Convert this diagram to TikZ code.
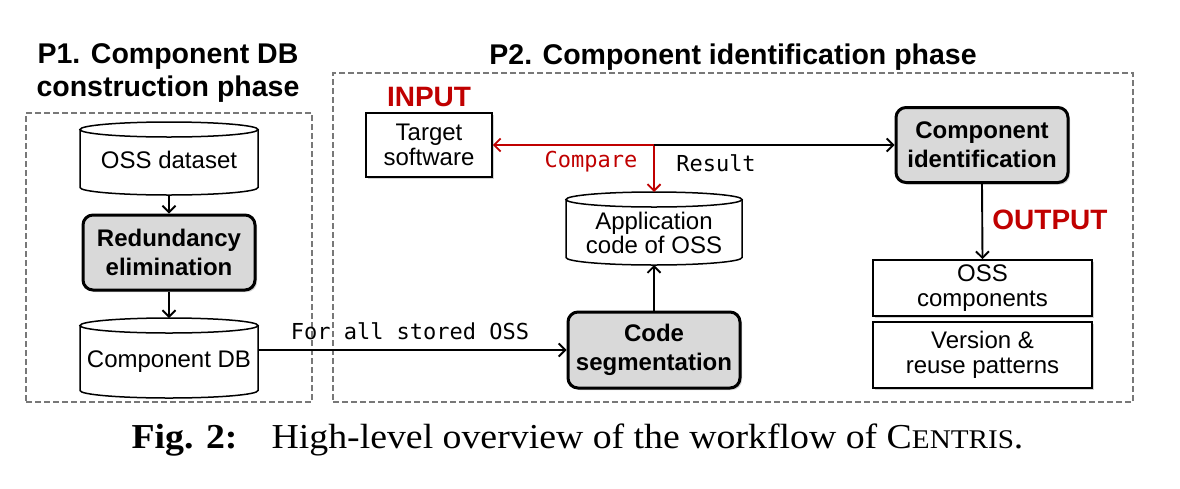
\documentclass[tikz,border=0pt]{standalone}
\usepackage{fontspec}
\setmainfont{Liberation Serif}
\setsansfont{Liberation Sans}
\setmonofont{DejaVu Sans Mono}
\usetikzlibrary{arrows.meta,shadows,calc}
\definecolor{inred}{RGB}{192,0,0}
\definecolor{boxgray}{RGB}{217,217,217}
\definecolor{dashgray}{RGB}{120,120,120}
\newcommand\drawcyl[2]{%
  \draw[cylline] ($(#1.north west)+(0,7.5)$) -- ($(#1.south west)+(0,-7.5)$)
    arc[start angle=180,end angle=360,x radius=#2pt,y radius=7.5pt]
    -- ($(#1.north east)+(0,7.5)$);
  \draw[cylline] ($(#1.north)+(0,7.5)$) ellipse[x radius=#2pt,y radius=7.5pt];
}
\newcommand\cyltext[2]{\raisebox{-#1pt}[\height][\depth]{\begin{tabular}{@{}c@{}}#2\end{tabular}}}
\begin{document}
\begin{tikzpicture}[x=1pt,y=-1pt,
  phase/.style={draw=dashgray, dash pattern=on 6pt off 3pt, line width=1.1pt},
  title/.style={font=\sffamily\bfseries\fontsize{28.5}{33}\selectfont, align=center, inner sep=0pt},
  proc/.style={draw, line width=3pt, rounded corners=10pt, fill=boxgray,
     font=\sffamily\bfseries\fontsize{24}{29}\selectfont, align=center, inner sep=0pt,
     drop shadow={shadow xshift=2pt, shadow yshift=-2pt, opacity=0.35}},
  plainbox/.style={draw, line width=1.6pt, fill=white,
     font=\sffamily\fontsize{24}{25}\selectfont, align=center, inner sep=0pt,
     drop shadow={shadow xshift=2pt, shadow yshift=-2pt, opacity=0.35}},
  cyl/.style={font=\sffamily\fontsize{24}{23}\selectfont, inner sep=0pt, outer sep=0pt},
  cylline/.style={line width=1.5pt},
  conn/.style={line width=1.9pt, -{Straight Barb[length=6.5pt,width=13pt,line width=1.9pt]}},
  monolab/.style={font=\ttfamily\fontsize{22}{24}\selectfont, inner sep=0pt},
  redlab/.style={font=\sffamily\bfseries\fontsize{28}{30}\selectfont, text=inred, inner sep=0pt}
]
\useasboundingbox[fill=white] (0,0) rectangle (1180,488);

% phase frames
\node[phase, minimum width=286pt, minimum height=289pt, inner sep=0pt] (p1) at (169,257.5) {};
\node[phase, minimum width=800pt, minimum height=329pt, inner sep=0pt] (p2) at (733,237.5) {};
\node[title] (p1t) at (168,73) {P1. Component DB\\construction phase};
\node[title] (p2t) at (733,57) {P2. Component identification phase};

% P1
\node[cyl, minimum width=178pt, minimum height=73pt] (oss) at (169,158.5) {\cyltext{4.5}{OSS dataset}};
\drawcyl{oss}{89}
\node[proc, minimum width=172pt, minimum height=75pt] (red) at (169,252.5) {Redundancy\\elimination};
\node[cyl, minimum width=178pt, minimum height=80pt] (cdb) at (169,358) {\cyltext{4.5}{Component DB}};
\drawcyl{cdb}{89}

\draw[conn] (oss.south) -- (red.north);
\draw[conn] (red.south) -- (cdb.north);

% P2
\node[redlab] (inp) at (429,97) {INPUT};
\node[plainbox, minimum width=126pt, minimum height=64pt] (tgt) at (429,145) {Target\\software};
\node[cyl, minimum width=176pt, minimum height=73pt] (app) at (654,228.5) {\cyltext{7.5}{Application\\code of OSS}};
\drawcyl{app}{88}
\node[proc, minimum width=172pt, minimum height=76pt] (seg) at (654,350) {Code\\segmentation};
\node[proc, minimum width=172pt, minimum height=75pt] (cid) at (982,145) {Component\\identification};
\node[redlab] (outp) at (1050,220) {OUTPUT};
\node[plainbox, minimum width=219pt, minimum height=56pt] (ossc) at (982.5,288) {OSS\\components};
\node[plainbox, minimum width=219pt, minimum height=66pt] (ver) at (982.5,355) {Version \&\\reuse patterns};

\coordinate (j) at (654,145);
\draw[conn, draw=inred] (j) -- (tgt.east);
\draw[conn, draw=inred] (j) -- (app.north);
\draw[conn] (j) -- (cid.west);
\node[monolab, text=inred] (cmp) at (591,162) {Compare};
\node[monolab] (res) at (716,163) {Result};

\draw[conn] (seg.north) -- (app.south);
\draw[conn] (cid.south) -- (ossc.north);

\draw[conn] (cdb.east |- seg.west) -- (seg.west);
\node[monolab] (fas) at (410,331) {For all stored OSS};

% caption
\node[inner sep=0pt] (cap) at (577.5,440) {\scalebox{1.08}[1]{\fontsize{35}{40}\selectfont\textbf{Fig. 2:}\hspace{0.9em}High-level overview of the workflow of C{\fontsize{27}{40}\selectfont ENTRIS}.}};
\end{tikzpicture}
\end{document}
